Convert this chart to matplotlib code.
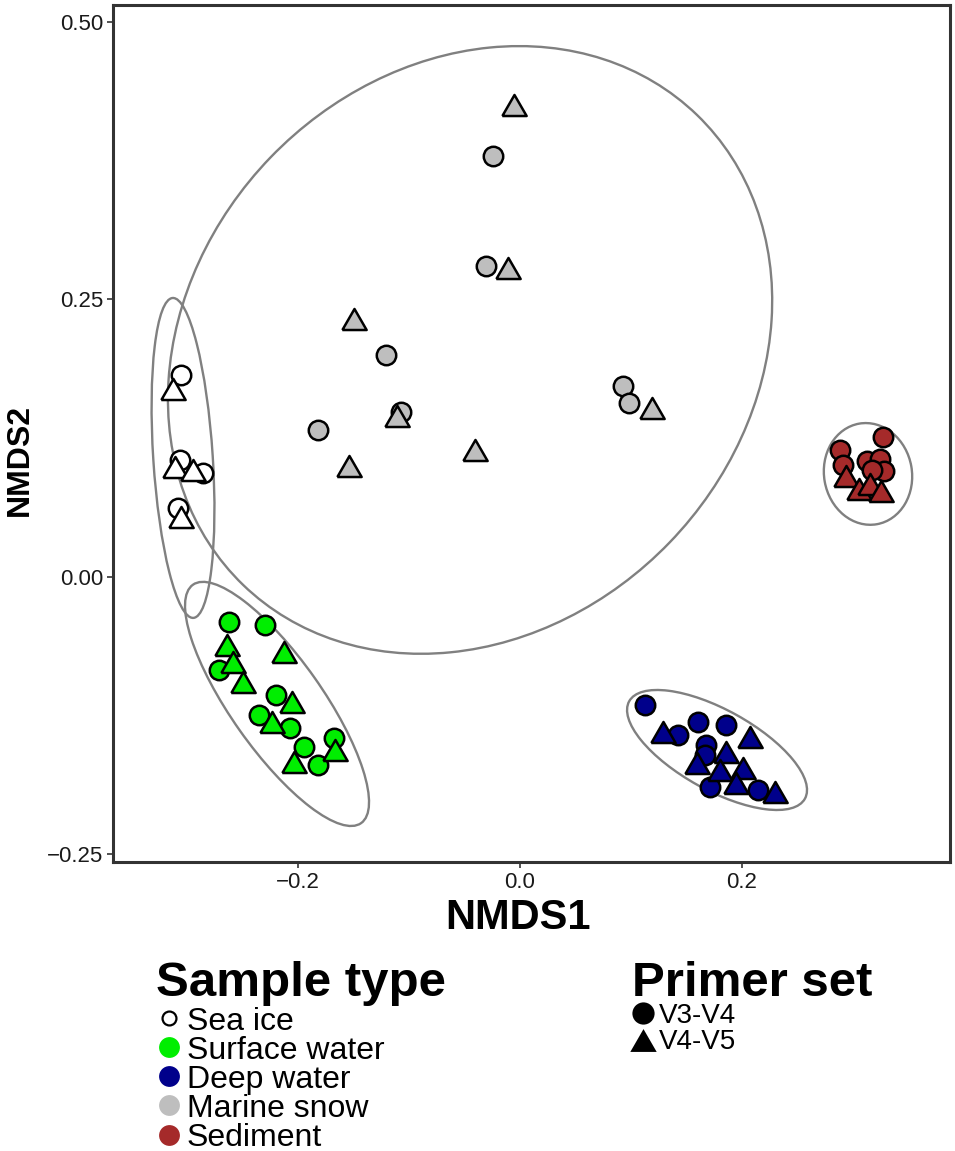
import numpy as np
import matplotlib
matplotlib.use('Agg')
import matplotlib.pyplot as plt
from matplotlib.patches import Ellipse
from matplotlib.lines import Line2D

plt.rcParams['font.family'] = ['Liberation Sans', 'DejaVu Sans']
plt.rcParams['axes.unicode_minus'] = True

# ---- data ----
samples = ['Sea ice', 'Surface water', 'Deep water', 'Marine snow', 'Sediment']
colors = ['#FFFFFF', '#00EE00', '#00008B', '#BEBEBE', '#A52A2A']
primers = ['V3-V4', 'V4-V5']

sea_ice_x = [-0.305, -0.313, -0.306, -0.311, -0.286, -0.295, -0.308, -0.305]
sea_ice_y = [0.182, 0.169, 0.105, 0.099, 0.094, 0.096, 0.062, 0.054]
sea_ice_p = ['V3-V4', 'V4-V5', 'V3-V4', 'V4-V5', 'V3-V4', 'V4-V5', 'V3-V4', 'V4-V5']

surface_x = [-0.262, -0.230, -0.264, -0.213, -0.259, -0.271, -0.250, -0.220, -0.205,
             -0.235, -0.223, -0.207, -0.195, -0.204, -0.182, -0.168, -0.167]
surface_y = [-0.041, -0.043, -0.061, -0.068, -0.077, -0.084, -0.095, -0.106, -0.113,
             -0.124, -0.131, -0.136, -0.153, -0.167, -0.169, -0.145, -0.156]
surface_p = ['V3-V4', 'V3-V4', 'V4-V5', 'V4-V5', 'V4-V5', 'V3-V4', 'V4-V5', 'V3-V4', 'V4-V5',
             'V3-V4', 'V4-V5', 'V3-V4', 'V3-V4', 'V4-V5', 'V3-V4', 'V3-V4', 'V4-V5']

deep_x = [0.113, 0.129, 0.142, 0.160, 0.186, 0.207, 0.168, 0.159, 0.167,
          0.186, 0.180, 0.201, 0.171, 0.195, 0.214, 0.230]
deep_y = [-0.115, -0.140, -0.142, -0.131, -0.133, -0.144, -0.151, -0.168, -0.160,
          -0.158, -0.174, -0.172, -0.189, -0.186, -0.192, -0.194]
deep_p = ['V3-V4', 'V4-V5', 'V3-V4', 'V3-V4', 'V3-V4', 'V4-V5', 'V3-V4', 'V4-V5', 'V3-V4',
          'V4-V5', 'V4-V5', 'V4-V5', 'V3-V4', 'V4-V5', 'V3-V4', 'V4-V5']

snow_x = [-0.005, -0.024, -0.031, -0.011, -0.150, -0.121, -0.107, -0.111,
          -0.182, -0.154, -0.041, 0.093, 0.098, 0.119]
snow_y = [0.425, 0.379, 0.280, 0.278, 0.232, 0.200, 0.149, 0.145,
          0.132, 0.100, 0.114, 0.172, 0.157, 0.152]
snow_p = ['V4-V5', 'V3-V4', 'V3-V4', 'V4-V5', 'V4-V5', 'V3-V4', 'V3-V4', 'V4-V5',
          'V3-V4', 'V4-V5', 'V4-V5', 'V3-V4', 'V3-V4', 'V4-V5']

sediment_x = [0.288, 0.327, 0.291, 0.313, 0.324, 0.328, 0.317, 0.294, 0.305, 0.315, 0.325]
sediment_y = [0.114, 0.126, 0.101, 0.104, 0.106, 0.095, 0.096, 0.091, 0.079, 0.084, 0.077]
sediment_p = ['V3-V4', 'V3-V4', 'V3-V4', 'V3-V4', 'V3-V4', 'V3-V4', 'V3-V4',
              'V4-V5', 'V4-V5', 'V4-V5', 'V4-V5']

# 95% ellipses per sample type: centre, semi-axes, angle (deg)
ell_cx = [-0.3036, -0.2189, 0.1775, -0.045, 0.3135]
ell_cy = [0.1072, -0.1144, -0.1559, 0.2045, 0.0928]
ell_a = [0.1444, 0.1314, 0.0905, 0.2943, 0.0460]
ell_b = [0.0268, 0.0412, 0.0361, 0.2498, 0.0396]
ell_ang = [93.7, 125.2, -29.0, 46.0, 100.0]

groups = [(sea_ice_x, sea_ice_y, sea_ice_p), (surface_x, surface_y, surface_p),
          (deep_x, deep_y, deep_p), (snow_x, snow_y, snow_p),
          (sediment_x, sediment_y, sediment_p)]

# equilateral triangle like ggplot shape 24
tri = [(-1, -0.866), (1, -0.866), (0, 0.866), (-1, -0.866)]
shape = {'V3-V4': 'o', 'V4-V5': tri}
msize = {'V3-V4': 14.0 ** 2, 'V4-V5': 17.5 ** 2}

fig = plt.figure(figsize=(9.55, 11.51), dpi=100)
ax = fig.add_axes([0.1183, 0.2511, 0.8765, 0.7446])

for cx, cy, a, b, ang in zip(ell_cx, ell_cy, ell_a, ell_b, ell_ang):
    ax.add_patch(Ellipse((cx, cy), 2 * a, 2 * b, angle=ang, fill=False,
                         edgecolor='#808080', lw=1.7, zorder=2))

for (xs, ys, ps), col in zip(groups, colors):
    xs, ys, ps = np.array(xs), np.array(ys), np.array(ps)
    for p in primers:
        m = ps == p
        ax.scatter(xs[m], ys[m], marker=shape[p], s=msize[p], facecolor=col,
                   edgecolor='black', linewidths=1.8, zorder=3)

ax.set_xlim(-0.3667, 0.3874)
ax.set_ylim(-0.2568, 0.5153)
ax.set_xticks([-0.2, 0.0, 0.2])
ax.set_xticklabels(['\u22120.2', '0.0', '0.2'])
ax.set_yticks([-0.25, 0.0, 0.25, 0.5])
ax.set_yticklabels(['\u22120.25', '0.00', '0.25', '0.50'])
ax.tick_params(length=4, width=1.2, color='#333333', labelsize=16,
               labelcolor='#1a1a1a', pad=3)
for sp in ax.spines.values():
    sp.set_linewidth(2.2)
    sp.set_color('#333333')

ax.set_xlabel('NMDS1', fontsize=30, fontweight='bold')
ax.xaxis.set_label_coords(0.484, -0.0653, transform=ax.transAxes)
ax.xaxis.label.set_va('center')
ax.set_ylabel('NMDS2', fontsize=23, fontweight='bold')
ax.yaxis.set_label_coords(-0.111, 0.469, transform=ax.transAxes)
ax.yaxis.label.set_va('center')

# legends
h1 = []
for name, col in zip(samples, colors):
    if col == '#FFFFFF':
        h1.append(Line2D([], [], ls='', marker='o', markersize=10, markerfacecolor='white',
                         markeredgecolor='black', markeredgewidth=1.6, label=name))
    else:
        h1.append(Line2D([], [], ls='', marker='o', markersize=15, markerfacecolor=col,
                         markeredgewidth=0, label=name))
fig.text(0.163, 0.1347, 'Sample type', fontsize=35.5, fontweight='bold', va='baseline')
fig.legend(handles=h1, loc='upper left', bbox_to_anchor=(0.168, 0.1255),
           frameon=False, fontsize=23, handlelength=0.55, handletextpad=0.27,
           labelspacing=-0.03, borderpad=0, borderaxespad=0)

h2 = [Line2D([], [], ls='', marker='o', markersize=16, markerfacecolor='black',
             markeredgewidth=0, label='V3-V4'),
      Line2D([], [], ls='', marker=tri, markersize=19, markerfacecolor='black',
             markeredgewidth=0, label='V4-V5')]
fig.text(0.662, 0.1347, 'Primer set', fontsize=35.5, fontweight='bold', va='baseline')
fig.legend(handles=h2, loc='upper left', bbox_to_anchor=(0.662, 0.1289),
           frameon=False, fontsize=20, handlelength=0.75, handletextpad=0.2,
           labelspacing=0.03, borderpad=0, borderaxespad=0)

fig.savefig('out.png', dpi=100, facecolor='white')
